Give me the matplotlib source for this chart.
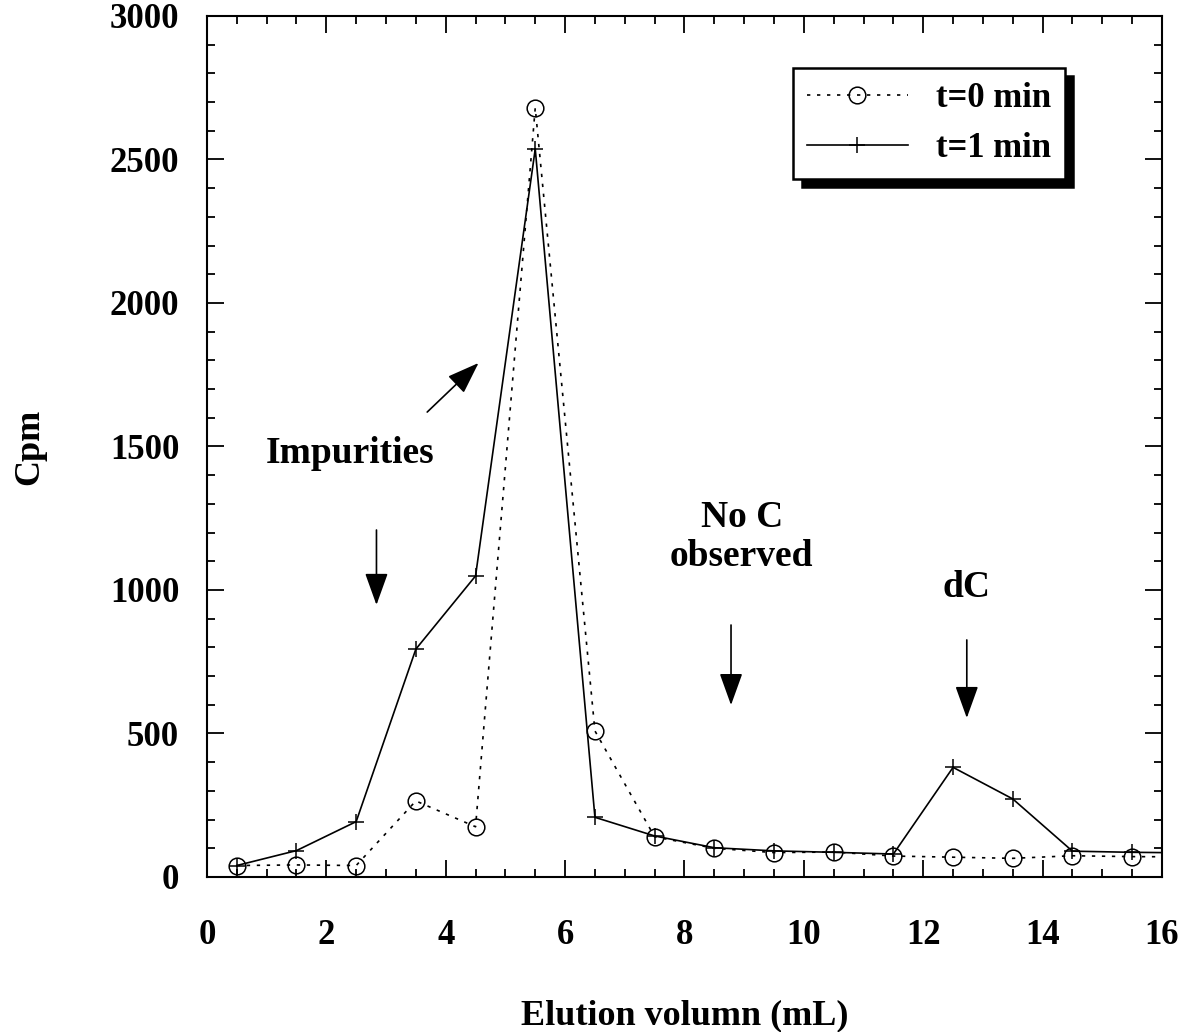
import matplotlib.pyplot as plt
from matplotlib.ticker import MultipleLocator

# ── Datos ────────────────────────────────────────────────────────────────────
volumen = [0.5, 1.5, 2.5, 3.5, 4.5, 5.5, 6.5, 7.5, 8.5, 9.5, 10.5, 11.5, 12.5, 13.5, 14.5, 15.5, 16.5]
cpm_t0 = [40, 42, 40, 265, 175, 2680, 509, 140, 100, 85, 87, 73, 69, 65, 74, 71, 70]
cpm_t1 = [40, 92, 193, 794, 1049, 2537, 208, 143, 102, 91, 86, 80, 382, 272, 90, 86, 84]

etiquetas = ["t=0 min", "t=1 min"]

FUENTE = "Liberation Serif"
plt.rcParams["font.family"] = [FUENTE, "DejaVu Serif"]
plt.rcParams["font.weight"] = "bold"

fig = plt.figure(figsize=(11.88, 10.32), dpi=100)
ax = fig.add_axes([0.1742, 0.1502, 0.8039, 0.8343])

ax.plot(volumen, cpm_t0, color="black", linestyle=(0, (2, 4)), linewidth=1.2,
        marker="o", markersize=12, markerfacecolor="none", markeredgewidth=1.1,
        label=etiquetas[0])
ax.plot(volumen, cpm_t1, color="black", linestyle="-", linewidth=1.2,
        marker="+", markersize=12, markeredgewidth=1.1, label=etiquetas[1])

ax.set_xlim(0, 16)
ax.set_ylim(0, 3000)
ax.xaxis.set_major_locator(MultipleLocator(2))
ax.xaxis.set_minor_locator(MultipleLocator(0.5))
ax.yaxis.set_major_locator(MultipleLocator(500))
ax.yaxis.set_minor_locator(MultipleLocator(100))
ax.tick_params(which="both", direction="in", top=True, right=True, width=1.3)
ax.tick_params(which="major", length=12)
ax.tick_params(which="minor", length=6)
ax.tick_params(axis="x", which="major", pad=30, labelsize=25)
ax.tick_params(axis="y", which="major", pad=20, labelsize=25)
for lab in ax.get_xticklabels() + ax.get_yticklabels():
    lab.set_fontweight("bold")
for s in ax.spines.values():
    s.set_linewidth(1.5)

ax.set_xlabel("Elution volumn (mL)", fontsize=26, fontweight="bold", labelpad=34)
ax.set_ylabel("Cpm", fontsize=26, fontweight="bold", labelpad=46)

# ── Anotaciones ──────────────────────────────────────────────────────────────
flecha = dict(arrowstyle="-|>,head_length=1.0,head_width=0.36", color="black",
              linewidth=1.2, mutation_scale=20, shrinkA=0, shrinkB=0)
ax.text(2.40, 1477, "Impurities", fontsize=27, fontweight="bold", ha="center", va="center")
ax.annotate("", xy=(2.84, 948), xytext=(2.84, 1209), arrowprops=flecha)
ax.annotate("", xy=(4.55, 1791), xytext=(3.69, 1620), arrowprops=flecha)
ax.text(8.96, 1185, "No C\nobserved", fontsize=27, fontweight="bold", ha="center",
        va="center", linespacing=1.15)
ax.annotate("", xy=(8.78, 599), xytext=(8.78, 878), arrowprops=flecha)
ax.text(12.73, 1007, "dC", fontsize=27, fontweight="bold", ha="center", va="center")
ax.annotate("", xy=(12.73, 554), xytext=(12.73, 826), arrowprops=flecha)

leg = ax.legend(loc="upper right", bbox_to_anchor=(0.898, 0.9396), borderaxespad=0,
                numpoints=1, handlelength=2.9, fontsize=25, fancybox=False,
                edgecolor="black", framealpha=1,
                shadow={"ox": 6, "oy": -6, "color": "black", "alpha": 1})
leg.get_frame().set_linewidth(1.8)
for t in leg.get_texts():
    t.set_fontweight("bold")

fig.savefig("out.png", dpi=100)
